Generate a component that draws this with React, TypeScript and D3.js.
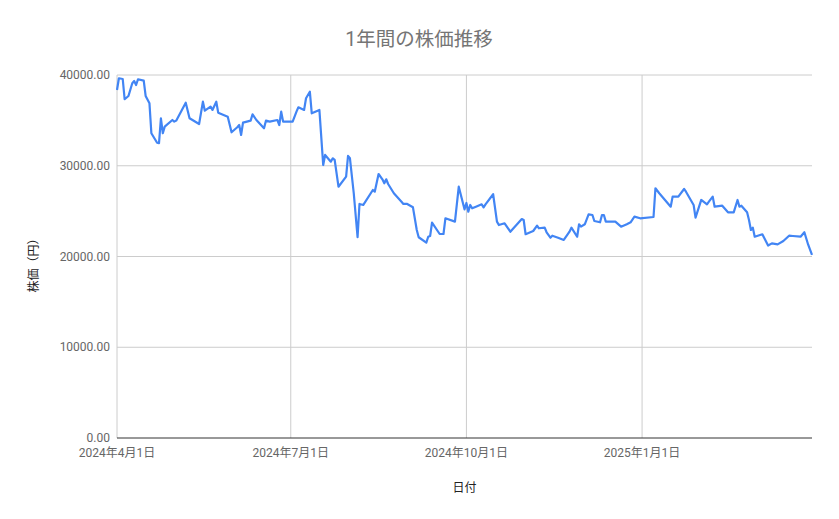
import React, { useEffect, useRef } from 'react'
import * as d3 from 'd3'

// 終値 (日付, 円)
const dates = [
  '2024-04-01', '2024-04-02', '2024-04-04', '2024-04-05', '2024-04-07', '2024-04-09', '2024-04-10', '2024-04-11',
  '2024-04-12', '2024-04-15', '2024-04-16', '2024-04-18', '2024-04-19', '2024-04-22', '2024-04-23', '2024-04-24',
  '2024-04-25', '2024-04-26', '2024-04-30', '2024-05-01', '2024-05-02', '2024-05-07', '2024-05-09', '2024-05-14',
  '2024-05-16', '2024-05-17', '2024-05-20', '2024-05-21', '2024-05-23', '2024-05-24', '2024-05-29', '2024-05-31',
  '2024-06-03', '2024-06-04', '2024-06-05', '2024-06-06', '2024-06-10', '2024-06-11', '2024-06-13', '2024-06-17',
  '2024-06-18', '2024-06-20', '2024-06-24', '2024-06-25', '2024-06-26', '2024-06-27', '2024-07-02', '2024-07-04',
  '2024-07-05', '2024-07-08', '2024-07-09', '2024-07-11', '2024-07-12', '2024-07-16', '2024-07-18', '2024-07-19',
  '2024-07-22', '2024-07-23', '2024-07-24', '2024-07-26', '2024-07-30', '2024-07-31', '2024-08-01', '2024-08-03',
  '2024-08-05', '2024-08-06', '2024-08-08', '2024-08-13', '2024-08-14', '2024-08-16', '2024-08-18', '2024-08-19',
  '2024-08-20', '2024-08-21', '2024-08-24', '2024-08-28', '2024-08-29', '2024-08-31', '2024-09-03', '2024-09-05',
  '2024-09-06', '2024-09-10', '2024-09-11', '2024-09-12', '2024-09-13', '2024-09-17', '2024-09-19', '2024-09-20',
  '2024-09-25', '2024-09-27', '2024-09-30', '2024-10-01', '2024-10-02', '2024-10-03', '2024-10-04', '2024-10-06',
  '2024-10-09', '2024-10-10', '2024-10-11', '2024-10-15', '2024-10-17', '2024-10-18', '2024-10-21', '2024-10-24',
  '2024-10-30', '2024-10-31', '2024-11-01', '2024-11-05', '2024-11-07', '2024-11-08', '2024-11-11', '2024-11-12',
  '2024-11-14', '2024-11-15', '2024-11-18', '2024-11-21', '2024-11-24', '2024-11-25', '2024-11-28', '2024-11-29',
  '2024-11-30', '2024-12-02', '2024-12-04', '2024-12-06', '2024-12-07', '2024-12-10', '2024-12-11', '2024-12-12',
  '2024-12-13', '2024-12-18', '2024-12-21', '2024-12-24', '2024-12-26', '2024-12-28', '2024-12-31', '2025-01-07',
  '2025-01-08', '2025-01-10', '2025-01-13', '2025-01-16', '2025-01-17', '2025-01-20', '2025-01-23', '2025-01-24',
  '2025-01-28', '2025-01-29', '2025-02-01', '2025-02-04', '2025-02-05', '2025-02-07', '2025-02-08', '2025-02-12',
  '2025-02-15', '2025-02-18', '2025-02-20', '2025-02-21', '2025-02-22', '2025-02-25', '2025-02-26', '2025-02-27',
  '2025-02-28', '2025-03-01', '2025-03-05', '2025-03-08', '2025-03-10', '2025-03-13', '2025-03-16', '2025-03-19',
  '2025-03-21', '2025-03-25', '2025-03-27', '2025-03-29', '2025-03-31',
]
const prices = [
  38350, 39640, 39560, 37330, 37690, 39090, 39340, 38900,
  39530, 39380, 37690, 36880, 33580, 32540, 32480, 35230,
  33580, 34310, 35040, 34860, 34970, 36950, 35230, 34600,
  37060, 36070, 36510, 36150, 37060, 35850, 35410, 33690,
  34240, 34490, 33390, 34750, 34970, 35670, 35040, 34130,
  34970, 34860, 35040, 34490, 35960, 34860, 34860, 35960,
  36440, 36150, 37440, 38160, 35780, 36150, 30080, 31190,
  30450, 30820, 30640, 27690, 28800, 31080, 30820, 26970,
  22120, 25790, 25680, 27330, 27140, 29090, 28510, 28070,
  28510, 27990, 26970, 26040, 25790, 25790, 25420, 22920,
  22120, 21520, 22180, 22260, 23730, 22480, 22480, 24210,
  23840, 27690, 25200, 25900, 24940, 25680, 25310, 25490,
  25750, 25420, 25750, 26860, 23840, 23470, 23660, 22730,
  24130, 24020, 22450, 22810, 23400, 23110, 23180, 22670,
  22070, 22290, 22070, 21820, 22730, 23180, 22180, 23550,
  23290, 23550, 24650, 24570, 23910, 23770, 24570, 24570,
  23840, 23840, 23290, 23550, 23770, 24390, 24210, 24350,
  27520, 26970, 26230, 25490, 26600, 26600, 27440, 27140,
  25680, 24280, 26230, 25750, 26040, 26600, 25490, 25600,
  24870, 24870, 26230, 25490, 25600, 24870, 24020, 22920,
  23180, 22180, 22450, 21210, 21450, 21340, 21710, 22290,
  22260, 22180, 22670, 21300, 20170,
]
const xTickDates = ['2024-04-01', '2024-07-01', '2024-10-01', '2025-01-01']
const yTicks = [0, 10000, 20000, 30000, 40000]
const title = '1年間の株価推移'
const xTitle = '日付'
const yTitle = '株価（円）'

const W = 839
const H = 519
const FONT = "Roboto, 'Noto Sans CJK JP', sans-serif"

const App = () => {
  const ref = useRef<SVGSVGElement>(null)

  useEffect(() => {
    const parse = d3.timeParse('%Y-%m-%d')
    const data = dates.map((d, i) => ({ date: parse(d) as Date, value: prices[i] }))
    const left = 117
    const right = 812
    const top = 75
    const bottom = 438

    const svg = d3.select(ref.current)
    svg.selectAll('*').remove()

    const x = d3
      .scaleTime()
      .domain(d3.extent(data, (d) => d.date) as [Date, Date])
      .range([left, right])
    const y = d3.scaleLinear().domain([0, 40000]).range([bottom, top])

    // horizontal grid
    svg
      .append('g')
      .selectAll('line')
      .data(yTicks.filter((t) => t > 0))
      .join('line')
      .attr('x1', left)
      .attr('x2', right)
      .attr('y1', (d) => y(d))
      .attr('y2', (d) => y(d))
      .attr('stroke', '#cccccc')
      .attr('stroke-width', 1)

    // vertical grid
    svg
      .append('g')
      .selectAll('line')
      .data(xTickDates.map((d) => parse(d) as Date))
      .join('line')
      .attr('x1', (d) => x(d))
      .attr('x2', (d) => x(d))
      .attr('y1', top)
      .attr('y2', bottom)
      .attr('stroke', '#cccccc')
      .attr('stroke-width', 1)

    // baseline
    svg
      .append('line')
      .attr('x1', left)
      .attr('x2', right)
      .attr('y1', y(0))
      .attr('y2', y(0))
      .attr('stroke', '#333333')
      .attr('stroke-width', 1)

    // y labels
    svg
      .append('g')
      .selectAll('text')
      .data(yTicks)
      .join('text')
      .attr('x', left - 7)
      .attr('y', (d) => y(d))
      .attr('dy', '0.35em')
      .attr('text-anchor', 'end')
      .attr('font-family', FONT)
      .attr('font-size', 12)
      .attr('fill', '#666666')
      .text((d) => d.toFixed(2))

    // x labels
    const fmt = d3.timeFormat('%Y年%-m月%-d日')
    svg
      .append('g')
      .selectAll('text')
      .data(xTickDates.map((d) => parse(d) as Date))
      .join('text')
      .attr('x', (d) => x(d))
      .attr('y', bottom + 19)
      .attr('text-anchor', 'middle')
      .attr('font-family', FONT)
      .attr('font-size', 12)
      .attr('fill', '#666666')
      .text((d) => fmt(d))

    // line
    svg
      .append('path')
      .datum(data)
      .attr('fill', 'none')
      .attr('stroke', '#4285f4')
      .attr('stroke-width', 2.2)
      .attr('stroke-linejoin', 'round')
      .attr(
        'd',
        d3
          .line<{ date: Date; value: number }>()
          .x((d) => x(d.date))
          .y((d) => y(d.value))
      )

    // titles
    svg
      .append('text')
      .attr('x', 419)
      .attr('y', 46)
      .attr('text-anchor', 'middle')
      .attr('font-family', FONT)
      .attr('font-size', 19.5)
      .attr('fill', '#757575')
      .text(title)

    svg
      .append('text')
      .attr('x', (left + right) / 2)
      .attr('y', 492)
      .attr('text-anchor', 'middle')
      .attr('font-family', FONT)
      .attr('font-size', 12)
      .attr('fill', '#222222')
      .text(xTitle)

    svg
      .append('text')
      .attr('transform', `translate(38, ${(top + bottom) / 2 + 6}) rotate(-90)`)
      .attr('text-anchor', 'middle')
      .attr('font-family', FONT)
      .attr('font-size', 12)
      .attr('fill', '#222222')
      .text(yTitle)
  }, [])

  return (
    <svg
      ref={ref}
      width={W}
      height={H}
      style={{ position: 'absolute', left: 0, top: 0, background: '#ffffff' }}
    />
  )
}

export default App
